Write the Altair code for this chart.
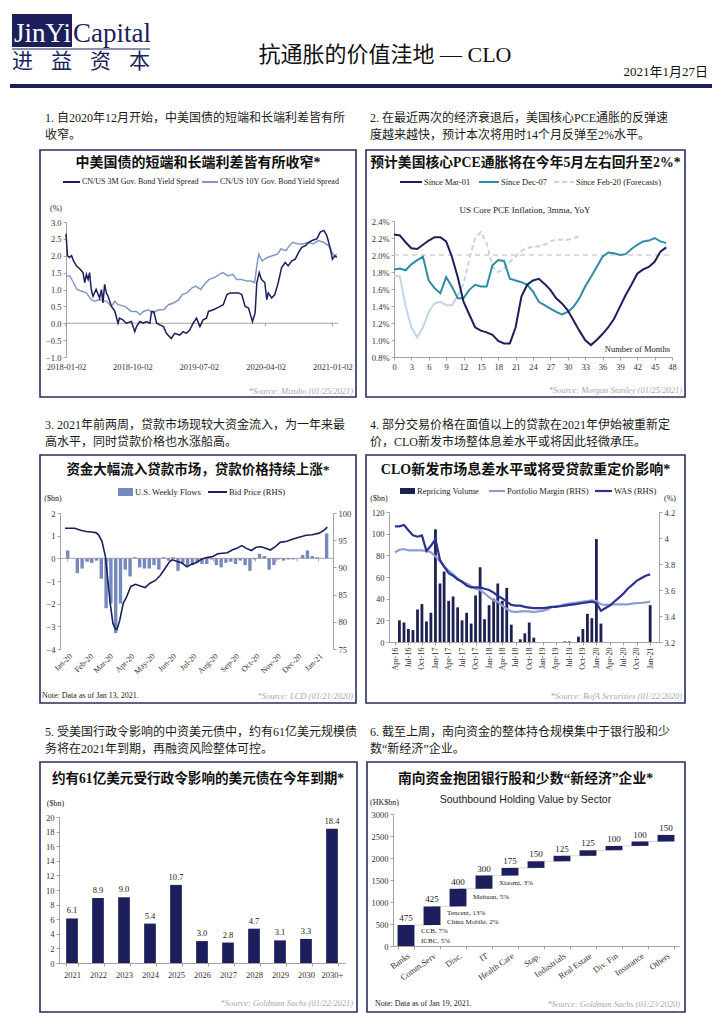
import altair as alt
import pandas as pd

# ------------------------------------------------------------------ style
NAVY = "#1c1f5c"
BOX = "#2a2d5c"
GREY = "#8c8c8c"
SRC = "#a8a8a8"
INK = "#1a1a1a"
SERIF = "Liberation Serif, Noto Sans CJK SC"
SANS = "Liberation Sans, Noto Sans CJK SC"

# ------------------------------------------------------------------ header text
BRAND_EN = ["JinYi", "Capital"]
BRAND_CN = ["进", "益", "资", "本"]
PAGE_TITLE = "抗通胀的价值洼地 — CLO"
PAGE_DATE = "2021年1月27日"

# ------------------------------------------------------------------ panel 1
P1_CAPTION = ["1. 自2020年12月开始，中美国债的短端和长端利差皆有所", "收窄。"]
P1_TITLE = "中美国债的短端和长端利差皆有所收窄*"
P1_SERIES = ["CN/US 3M Gov. Bond Yield Spread", "CN/US 10Y Gov. Bond Yield Spread"]
P1_SOURCE = "*Source: Mizuho (01/25/2021)"
P1_XTICKS = ["2018-01-02", "2018-10-02", "2019-07-02", "2020-04-02", "2021-01-02"]
P1_YTICKS = [-1.0, -0.5, 0.0, 0.5, 1.0, 1.5, 2.0, 2.5, 3.0]
P1_3M = [
    ("2018-01-02", 2.65), ("2018-01-08", 2.0), ("2018-01-16", 1.95), ("2018-01-25", 2.0),
    ("2018-02-02", 1.85), ("2018-02-14", 1.7), ("2018-03-01", 1.6), ("2018-03-13", 1.5),
    ("2018-03-20", 1.2), ("2018-03-27", 1.45), ("2018-04-03", 1.3), ("2018-04-09", 1.5),
    ("2018-04-16", 1.0), ("2018-04-23", 0.8), ("2018-05-06", 1.0), ("2018-05-20", 0.75),
    ("2018-05-28", 1.0), ("2018-06-03", 0.6), ("2018-06-10", 1.15), ("2018-06-17", 0.9),
    ("2018-06-24", 0.8), ("2018-07-01", 0.65), ("2018-07-08", 0.5), ("2018-07-22", 0.35),
    ("2018-08-04", 0.0), ("2018-08-10", 0.15), ("2018-08-24", 0.1), ("2018-09-07", 0.0),
    ("2018-09-28", 0.05), ("2018-10-12", -0.25), ("2018-10-19", -0.1), ("2018-11-02", 0.05),
    ("2018-11-16", 0.0), ("2018-11-28", 0.05), ("2018-12-13", 0.0), ("2018-12-20", 0.35),
    ("2018-12-29", 0.35), ("2019-01-10", 0.0), ("2019-01-23", -0.05), ("2019-02-07", -0.1),
    ("2019-02-19", -0.3), ("2019-03-11", -0.45), ("2019-03-25", -0.3), ("2019-04-15", -0.35),
    ("2019-04-29", -0.25), ("2019-05-12", -0.3), ("2019-05-26", -0.2), ("2019-06-09", 0.0),
    ("2019-06-23", 0.15), ("2019-07-07", -0.1), ("2019-07-20", 0.1), ("2019-08-03", 0.15),
    ("2019-08-11", 0.35), ("2019-08-31", 0.4), ("2019-09-14", 0.45), ("2019-09-28", 0.5),
    ("2019-10-11", 0.55), ("2019-10-26", 0.85), ("2019-11-08", 0.9), ("2019-11-23", 0.9),
    ("2019-12-13", 0.9), ("2019-12-26", 0.85), ("2020-01-09", 0.5), ("2020-01-23", 0.45),
    ("2020-01-29", 0.3), ("2020-02-08", 0.05), ("2020-02-19", 0.3), ("2020-02-26", 1.2),
    ("2020-03-07", 1.5), ("2020-03-16", 1.3), ("2020-03-30", 1.2), ("2020-04-07", 0.7),
    ("2020-04-13", 0.9), ("2020-04-27", 0.75), ("2020-05-10", 0.85), ("2020-05-24", 1.2),
    ("2020-06-07", 1.65), ("2020-06-22", 1.8), ("2020-07-04", 1.7), ("2020-07-19", 1.85),
    ("2020-08-02", 1.9), ("2020-08-16", 2.1), ("2020-08-29", 2.25), ("2020-09-13", 2.3),
    ("2020-09-27", 2.4), ("2020-10-10", 2.45), ("2020-10-30", 2.5), ("2020-11-13", 2.7),
    ("2020-11-28", 2.75), ("2020-12-10", 2.6), ("2020-12-25", 2.2), ("2021-01-02", 1.9),
    ("2021-01-12", 2.0), ("2021-01-20", 1.95),
]
P1_10Y = [
    ("2018-01-02", 1.4), ("2018-01-18", 1.4), ("2018-02-02", 1.2), ("2018-02-16", 1.0),
    ("2018-03-08", 0.95), ("2018-03-27", 0.9), ("2018-04-16", 0.7), ("2018-04-30", 0.65),
    ("2018-05-20", 0.7), ("2018-06-17", 0.65), ("2018-07-08", 0.5), ("2018-07-22", 0.65),
    ("2018-08-04", 0.55), ("2018-09-01", 0.5), ("2018-09-28", 0.35), ("2018-10-19", 0.35),
    ("2018-11-02", 0.25), ("2018-11-16", 0.35), ("2018-12-06", 0.4), ("2018-12-26", 0.3),
    ("2019-01-17", 0.4), ("2019-02-07", 0.4), ("2019-02-28", 0.55), ("2019-03-21", 0.6),
    ("2019-04-11", 0.7), ("2019-04-25", 0.85), ("2019-05-15", 0.9), ("2019-06-05", 1.05),
    ("2019-06-19", 1.1), ("2019-07-10", 1.0), ("2019-07-31", 1.2), ("2019-08-14", 1.3),
    ("2019-09-04", 1.35), ("2019-09-25", 1.45), ("2019-10-09", 1.5), ("2019-10-30", 1.4),
    ("2019-11-20", 1.45), ("2019-12-04", 1.3), ("2019-12-24", 1.3), ("2020-01-14", 1.25),
    ("2020-02-03", 1.25), ("2020-02-17", 1.2), ("2020-02-28", 1.8), ("2020-03-05", 2.05),
    ("2020-03-19", 1.85), ("2020-04-09", 1.95), ("2020-04-30", 2.0), ("2020-05-21", 2.05),
    ("2020-06-04", 2.2), ("2020-06-25", 2.15), ("2020-07-09", 2.3), ("2020-07-23", 2.4),
    ("2020-08-13", 2.35), ("2020-09-03", 2.35), ("2020-09-24", 2.4), ("2020-10-15", 2.35),
    ("2020-11-05", 2.45), ("2020-11-26", 2.4), ("2020-12-17", 2.3), ("2020-12-31", 2.1),
    ("2021-01-12", 2.0), ("2021-01-20", 2.05),
]

# ------------------------------------------------------------------ panel 2
P2_CAPTION = ["2. 在最近两次的经济衰退后，美国核心PCE通胀的反弹速",
              "度越来越快，预计本次将用时14个月反弹至2%水平。"]
P2_TITLE = "预计美国核心PCE通胀将在今年5月左右回升至2%*"
P2_SERIES = ["Since Mar-01", "Since Dec-07", "Since Feb-20 (Forecasts)"]
P2_SUBTITLE = "US Core PCE Inflation, 3mma, YoY"
P2_XLABEL = "Number of Months"
P2_SOURCE = "*Source: Morgan Stanley (01/25/2021)"
P2_XTICKS = [0, 3, 6, 9, 12, 15, 18, 21, 24, 27, 30, 33, 36, 39, 42, 45, 48]
P2_YTICKS = [0.8, 1.0, 1.2, 1.4, 1.6, 1.8, 2.0, 2.2, 2.4]
P2_TARGET = 2.0
P2_MAR01 = [2.24, 2.23, 2.15, 2.08, 2.07, 2.12, 2.17, 2.21, 2.21, 2.16, 1.98, 1.74,
            1.45, 1.30, 1.15, 1.11, 1.09, 1.06, 0.99, 0.96, 0.96, 1.15, 1.51, 1.65,
            1.70, 1.72, 1.66, 1.59, 1.49, 1.43, 1.35, 1.23, 1.11, 1.00, 0.94, 1.00,
            1.07, 1.15, 1.25, 1.39, 1.53, 1.65, 1.78, 1.83, 1.86, 1.92, 2.04, 2.09]
P2_DEC07 = [1.83, 1.84, 1.82, 1.89, 1.94, 1.98, 1.70, 1.61, 1.55, 1.74, 1.63, 1.49,
            1.49, 1.59, 1.65, 1.63, 1.63, 1.88, 1.94, 1.93, 1.72, 1.70, 1.68, 1.65,
            1.57, 1.45, 1.41, 1.37, 1.33, 1.30, 1.33, 1.39, 1.49, 1.63, 1.74, 1.86,
            1.98, 2.03, 2.02, 2.00, 2.01, 2.07, 2.12, 2.16, 2.17, 2.20, 2.16, 2.14]
P2_FEB20 = [1.75, 1.75, 1.40, 1.15, 1.03, 1.15, 1.33, 1.43, 1.45, 1.41, 1.41, 1.52,
            1.66, 1.95, 2.20, 2.27, 2.14, 1.86, 1.80, 1.84, 1.92, 1.98, 2.05, 2.08,
            2.10, 2.10, 2.12, 2.16, 2.18, 2.18, 2.18, 2.20, 2.22]
P2_FEB20_ACTUAL = 12  # months of realised data before the forecast part

# ------------------------------------------------------------------ panel 3
P3_CAPTION = ["3. 2021年前两周，贷款市场现较大资金流入，为一年来最",
              "高水平，同时贷款价格也水涨船高。"]
P3_TITLE = "资金大幅流入贷款市场，贷款价格持续上涨*"
P3_SERIES = ["U.S. Weekly Flows", "Bid Price (RHS)"]
P3_NOTE = "Note: Data as of Jan 13, 2021."
P3_SOURCE = "*Source: LCD (01/21/2020)"
P3_FLOWS = [0.35, 0.0, -0.65, -0.45, -0.15, -0.2, -0.1, -0.9, -2.2, -2.0, -3.3,
            -2.0, -0.5, -0.8, 0.05, -0.4, -0.45, -0.45, -0.3, -0.5, 0.05, -0.1,
            0.05, -0.55, -0.2, -0.35, -0.3, -0.2, -0.25, -0.25, -0.05, -0.3, -0.4,
            -0.2, -0.15, -0.25, -0.1, -0.3, -0.55, -0.05, 0.2, 0.1, -0.5, -0.3,
            -0.05, -0.1, -0.05, -0.05, 0.0, 0.15, 0.35, 0.1, 0.05, 0.0, 1.1]
P3_PRICE = [
    ("2019-12-28", 97.2), ("2020-01-11", 97.2), ("2020-01-21", 96.8), ("2020-01-28", 96.6),
    ("2020-02-04", 96.5), ("2020-02-11", 96.4), ("2020-02-15", 96.0), ("2020-02-20", 94.8),
    ("2020-02-25", 92.0), ("2020-02-28", 88.3), ("2020-03-03", 83.4), ("2020-03-07", 79.7),
    ("2020-03-10", 78.8), ("2020-03-13", 78.6), ("2020-03-17", 80.3), ("2020-03-22", 83.4),
    ("2020-03-27", 84.6), ("2020-04-02", 86.5), ("2020-04-09", 86.9), ("2020-04-16", 86.6),
    ("2020-04-23", 86.3), ("2020-04-30", 87.1), ("2020-05-08", 87.6), ("2020-05-15", 88.5),
    ("2020-05-22", 89.8), ("2020-05-29", 91.1), ("2020-06-02", 91.4), ("2020-06-09", 91.1),
    ("2020-06-16", 90.8), ("2020-06-23", 90.1), ("2020-06-30", 90.6), ("2020-07-07", 90.9),
    ("2020-07-14", 91.5), ("2020-07-22", 91.8), ("2020-07-31", 92.0), ("2020-08-07", 92.5),
    ("2020-08-14", 92.6), ("2020-08-21", 92.7), ("2020-08-28", 93.2), ("2020-09-04", 93.5),
    ("2020-09-11", 94.0), ("2020-09-18", 93.5), ("2020-09-25", 93.1), ("2020-10-02", 93.7),
    ("2020-10-09", 93.8), ("2020-10-16", 93.5), ("2020-10-23", 93.2), ("2020-10-30", 93.8),
    ("2020-11-06", 94.6), ("2020-11-16", 94.8), ("2020-11-25", 95.2), ("2020-12-05", 95.6),
    ("2020-12-14", 95.9), ("2020-12-23", 96.0), ("2021-01-02", 96.3), ("2021-01-09", 96.8),
    ("2021-01-14", 97.4),
]
P3_XTICKS = ["2020-01-01", "2020-02-01", "2020-03-01", "2020-04-01", "2020-05-01",
             "2020-06-01", "2020-07-01", "2020-08-01", "2020-09-01", "2020-10-01",
             "2020-11-01", "2020-12-01", "2021-01-01"]

# ------------------------------------------------------------------ panel 4
P4_CAPTION = ["4. 部分交易价格在面值以上的贷款在2021年伊始被重新定",
              "价，CLO新发市场整体息差水平或将因此轻微承压。"]
P4_TITLE = "CLO新发市场息差水平或将受贷款重定价影响*"
P4_SERIES = ["Repricing Volume", "Portfolio Margin (RHS)", "WAS (RHS)"]
P4_SOURCE = "*Source: BofA Securities (01/22/2020)"
P4_REPRICING = [0, 20, 18, 12, 11, 30, 35, 19, 27, 104, 54, 65, 38, 42, 32, 20, 27, 17,
                43, 69, 21, 34, 40, 54, 38, 50, 16, 0, 2.5, 8, 18, 4, 0, 0, 0, 0, 0, 0,
                0.5, 0.5, 0, 5, 12, 26, 22, 95, 17, 0, 0, 0, 0, 0, 0, 0, 0, 0, 0, 34]
P4_WAS = [4.09, 4.09, 4.10, 4.06, 4.02, 4.01, 4.02, 3.90, 3.94, 3.99, 3.83, 3.78,
          3.73, 3.71, 3.68, 3.665, 3.635, 3.62, 3.62, 3.62, 3.61, 3.60, 3.58, 3.555,
          3.535, 3.51, 3.485, 3.48, 3.48, 3.47, 3.465, 3.46, 3.46, 3.46, 3.465, 3.47,
          3.47, 3.475, 3.48, 3.485, 3.49, 3.495, 3.50, 3.505, 3.51, 3.50, 3.44, 3.46,
          3.48, 3.51, 3.54, 3.57, 3.61, 3.64, 3.67, 3.69, 3.71, 3.72]
P4_MARGIN = [3.89, 3.91, 3.915, 3.905, 3.905, 3.905, 3.905, 3.90, 3.89, 3.86, 3.82, 3.78,
             3.75, 3.72, 3.69, 3.66, 3.65, 3.63, 3.61, 3.60, 3.575, 3.545, 3.52, 3.51,
             3.48, 3.455, 3.435, 3.43, 3.435, 3.435, 3.435, 3.43, 3.435, 3.44, 3.45, 3.465,
             3.475, 3.48, 3.49, 3.495, 3.50, 3.505, 3.51, 3.515, 3.52, 3.515, 3.49, 3.485,
             3.485, 3.49, 3.49, 3.49, 3.49, 3.495, 3.50, 3.50, 3.505, 3.51]
P4_XTICKS = ["2016-04-01", "2016-07-01", "2016-10-01", "2017-01-01", "2017-04-01",
             "2017-07-01", "2017-10-01", "2018-01-01", "2018-04-01", "2018-07-01",
             "2018-10-01", "2019-01-01", "2019-04-01", "2019-07-01", "2019-10-01",
             "2020-01-01", "2020-04-01", "2020-07-01", "2020-10-01", "2021-01-01"]

# ------------------------------------------------------------------ panel 5
P5_CAPTION = ["5. 受美国行政令影响的中资美元债中，约有61亿美元规模债",
              "务将在2021年到期，再融资风险整体可控。"]
P5_TITLE = "约有61亿美元受行政令影响的美元债在今年到期*"
P5_SOURCE = "*Source: Goldman Sachs (01/22/2021)"
P5_YEARS = ["2021", "2022", "2023", "2024", "2025", "2026", "2027", "2028", "2029", "2030", "2030+"]
P5_VALUES = [6.1, 8.9, 9.0, 5.4, 10.7, 3.0, 2.8, 4.7, 3.1, 3.3, 18.4]

# ------------------------------------------------------------------ panel 6
P6_CAPTION = ["6. 截至上周，南向资金的整体持仓规模集中于银行股和少", "数“新经济”企业。"]
P6_TITLE = "南向资金抱团银行股和少数“新经济”企业*"
P6_SUBTITLE = "Southbound Holding Value by Sector"
P6_NOTE = "Note: Data as of Jan 19, 2021."
P6_SOURCE = "*Source: Goldman Sachs (01/23/2020)"
P6_SECTORS = ["Banks", "Comm.Serv", "Disc.", "IT", "Health Care", "Stap.", "Industrials",
              "Real Estate", "Div. Fin", "Insurance", "Others"]
P6_VALUES = [475, 425, 400, 300, 175, 150, 125, 125, 100, 100, 150]
P6_NOTES = [("Comm.Serv", 340, "CCB, 7%"), ("Comm.Serv", 115, "ICBC, 5%"),
            ("Disc.", 760, "Tencent, 13%"), ("Disc.", 545, "China Mobile, 2%"),
            ("IT", 1110, "Meituan, 5%"), ("Health Care", 1430, "Xiaomi, 3%")]

# ------------------------------------------------------------------ helpers
one = pd.DataFrame({"k": [0]})


def D(s):
    y, m, d = (int(p) for p in s.split("-"))
    return alt.DateTime(year=y, month=m, date=d)


class Cell:
    """decorations placed in page pixels, converted to the cell's own frame"""

    def __init__(self, ox, oy):
        self.ox, self.oy = ox, oy

    def X(self, v):
        return v - self.ox

    def Y(self, v):
        return v - self.oy

    def txt(self, s, x, y, size=9.0, color=INK, align="left", font=SERIF, bold=False,
            italic=False, baseline="middle"):
        mk = dict(text=s, align=align, baseline=baseline, fontSize=size, font=font, color=color)
        if bold:
            mk["fontWeight"] = "bold"
        if italic:
            mk["fontStyle"] = "italic"
        return alt.Chart(one).mark_text(**mk).encode(
            x=alt.value(self.X(x)), y=alt.value(self.Y(y)))

    def rect(self, x, x2, y, y2, fill=None, stroke=None, sw=1.0):
        mk = {}
        if fill is not None:
            mk["fill"] = fill
        else:
            mk["fillOpacity"] = 0
        if stroke is not None:
            mk["stroke"] = stroke
            mk["strokeWidth"] = sw
        return alt.Chart(one).mark_rect(**mk).encode(
            x=alt.value(self.X(x)), x2=alt.value(self.X(x2)),
            y=alt.value(self.Y(y)), y2=alt.value(self.Y(y2)))

    def hline(self, x, x2, y, color, w=2.0, dash=None):
        mk = dict(color=color, strokeWidth=w)
        if dash:
            mk["strokeDash"] = dash
        return alt.Chart(one).mark_rule(**mk).encode(
            x=alt.value(self.X(x)), x2=alt.value(self.X(x2)), y=alt.value(self.Y(y)))

    def frame(self, box, title, tsize, tx, ty, caption, capx, capy):
        return [
            self.rect(*box, stroke=BOX, sw=1.6),
            self.txt(title, tx, ty, size=tsize, bold=True, align="center", color="#111111"),
            self.txt(caption[0], capx, capy, size=12),
            self.txt(caption[1], capx, capy + 16.5, size=12),
        ]


CW = 354  # cell width

# ------------------------------------------------------------------ header  (page 8..716 x 8..100)
c0 = Cell(8, 8)
header = alt.layer(
    c0.rect(12, 72, 14, 47, fill=NAVY),
    c0.txt(BRAND_EN[0], 14, 42, size=27, color="white", baseline="alphabetic", font="Liberation Serif"),
    c0.txt(BRAND_EN[1], 73, 42, size=27, color=NAVY, baseline="alphabetic", font="Liberation Serif"),
    c0.hline(12, 150, 49, NAVY, 1),
    c0.txt(BRAND_CN[0], 12, 62, size=21, color=NAVY),
    c0.txt(BRAND_CN[1], 51, 62, size=21, color=NAVY),
    c0.txt(BRAND_CN[2], 90, 62, size=21, color=NAVY),
    c0.txt(BRAND_CN[3], 129, 62, size=21, color=NAVY),
    c0.txt(PAGE_TITLE, 385, 55, size=22, align="center", color="#111111"),
    c0.txt(PAGE_DATE, 708, 72, size=13, align="right", color="#111111"),
    c0.rect(10, 712, 84, 88, fill=NAVY),
).properties(width=708, height=92)

# ------------------------------------------------------------------ panel 1  (page 8..362 x 100..408)
c1 = Cell(8, 100)
P1_LIGHT = "#8496c9"
d1a = pd.DataFrame(P1_3M, columns=["date", "v"])
d1b = pd.DataFrame(P1_10Y, columns=["date", "v"])
d1z = pd.DataFrame({"v": [0.0]})
d1t = pd.DataFrame({"date": P1_XTICKS, "v": [0.0] * len(P1_XTICKS)})
x1 = alt.X("date:T", title=None,
           scale=alt.Scale(domain=[D("2018-01-02"), D("2021-01-25")], range=[c1.X(66), c1.X(338)]),
           axis=alt.Axis(values=[D(s) for s in P1_XTICKS], format="%Y-%m-%d", domain=False,
                         ticks=False, labelPadding=5, offset=-(408 - 357)))
y1 = alt.Y("v:Q", title=None,
           scale=alt.Scale(domain=[-1, 3], range=[c1.Y(357), c1.Y(222)], nice=False, zero=False),
           axis=alt.Axis(values=P1_YTICKS, format=".1f", offset=-(66 - 8)))
p1 = alt.layer(
    *c1.frame((40, 356, 150, 397), P1_TITLE, 14, 198, 163, P1_CAPTION, 45, 118),
    alt.Chart(d1z).mark_rule(color=GREY, strokeWidth=0.8).encode(
        x=alt.value(c1.X(66)), x2=alt.value(c1.X(338)), y=y1),
    alt.Chart(d1t).mark_rule(color=GREY, strokeWidth=0.8).encode(
        x=x1, y=y1, y2=alt.value(c1.Y(326.5))),
    alt.Chart(d1b).mark_line(color=P1_LIGHT, strokeWidth=1.5).encode(x=x1, y=y1),
    alt.Chart(d1a).mark_line(color=NAVY, strokeWidth=1.5).encode(x=x1, y=y1),
    c1.hline(63, 80, 182, NAVY, 2),
    c1.txt(P1_SERIES[0], 82, 182, size=8),
    c1.hline(202, 218, 182, P1_LIGHT, 2),
    c1.txt(P1_SERIES[1], 220, 182, size=8),
    c1.txt("(%)", 56, 209, size=8, align="center"),
    c1.txt(P1_SOURCE, 353, 391, size=8.5, color=SRC, italic=True, align="right"),
).properties(width=CW, height=308)

# ------------------------------------------------------------------ panel 2  (page 362..716 x 100..408)
c2 = Cell(362, 100)
TEAL = "#2f8ca3"
PALE = "#c3d5ea"
d2a = pd.DataFrame({"m": list(range(len(P2_MAR01))), "v": P2_MAR01})
d2b = pd.DataFrame({"m": list(range(len(P2_DEC07))), "v": P2_DEC07})
d2c = pd.DataFrame({"m": list(range(len(P2_FEB20))), "v": P2_FEB20})
d2c_act = d2c.iloc[:P2_FEB20_ACTUAL]
d2c_fc = d2c.iloc[P2_FEB20_ACTUAL - 1:]
d2t = pd.DataFrame({"v": [P2_TARGET]})
x2 = alt.X("m:Q", title=None,
           scale=alt.Scale(domain=[0, 48], range=[c2.X(394), c2.X(672)], nice=False, zero=False),
           axis=alt.Axis(values=P2_XTICKS, format="d", offset=-(408 - 357)))
y2 = alt.Y("v:Q", title=None,
           scale=alt.Scale(domain=[0.8, 2.4], range=[c2.Y(357), c2.Y(221)], nice=False, zero=False),
           axis=alt.Axis(values=P2_YTICKS, labelExpr="format(datum.value, '.1f') + '%'",
                         offset=-(394 - 362)))
p2 = alt.layer(
    *c2.frame((366, 685, 150, 397), P2_TITLE, 13.8, 525.5, 163, P2_CAPTION, 370, 118),
    alt.Chart(d2t).mark_rule(color="#d0d0d0", strokeWidth=1.5, strokeDash=[5, 4]).encode(
        x=alt.value(c2.X(394)), x2=alt.value(c2.X(672)), y=y2),
    alt.Chart(d2c_act).mark_line(color=PALE, strokeWidth=2).encode(x=x2, y=y2),
    alt.Chart(d2c_fc).mark_line(color=PALE, strokeWidth=2, strokeDash=[5, 3]).encode(x=x2, y=y2),
    alt.Chart(d2b).mark_line(color=TEAL, strokeWidth=2).encode(x=x2, y=y2),
    alt.Chart(d2a).mark_line(color=NAVY, strokeWidth=2).encode(x=x2, y=y2),
    c2.hline(400, 422, 182, NAVY, 2),
    c2.txt(P2_SERIES[0], 424, 182, size=8.5),
    c2.hline(479, 499, 182, TEAL, 2),
    c2.txt(P2_SERIES[1], 501, 182, size=8.5),
    c2.hline(554, 574, 182, PALE, 2, dash=[5, 3]),
    c2.txt(P2_SERIES[2], 576, 182, size=8.5),
    c2.txt(P2_SUBTITLE, 525, 210, size=9, align="center"),
    c2.txt(P2_XLABEL, 670, 349, size=8.5, align="right"),
    c2.txt(P2_SOURCE, 682, 390, size=8.5, color=SRC, italic=True, align="right"),
).properties(width=CW, height=308)

# ------------------------------------------------------------------ panel 3  (page 8..362 x 408..714)
c3 = Cell(8, 408)
FLOW = "#7589bf"
d3f = pd.DataFrame({"date": pd.date_range("2020-01-01", periods=len(P3_FLOWS), freq="7D"),
                    "v": P3_FLOWS})
d3p = pd.DataFrame(P3_PRICE, columns=["date", "p"])
d3z = pd.DataFrame({"v": [0.0]})
d3t = pd.DataFrame({"date": P3_XTICKS, "v": [0.0] * len(P3_XTICKS)})
x3 = alt.X("date:T", title=None,
           scale=alt.Scale(domain=[D("2019-12-28"), D("2021-01-15")], range=[c3.X(60), c3.X(333)]),
           axis=alt.Axis(values=[D(s) for s in P3_XTICKS], format="%b-%y", labelAngle=-45,
                         domain=False, ticks=False, labelPadding=3, labelFontSize=8,
                         offset=-(714 - 649)))
ysc3 = dict(domain=[-4, 2], range=[c3.Y(649), c3.Y(513)], nice=False, zero=False)
yl3 = alt.Y("v:Q", title=None, scale=alt.Scale(**ysc3),
            axis=alt.Axis(orient="left", values=[-4, -3, -2, -1, 0, 1, 2], format="d",
                          offset=-(60 - 8)))
yz3 = alt.Y("v:Q", title=None, scale=alt.Scale(**ysc3), axis=None)
yr3 = alt.Y("p:Q", title=None,
            scale=alt.Scale(domain=[75, 100], range=[c3.Y(649), c3.Y(513)], nice=False, zero=False),
            axis=alt.Axis(orient="right", values=[75, 80, 85, 90, 95, 100], format="d",
                          offset=-(362 - 333)))
p3 = alt.layer(
    *c3.frame((40, 356, 455, 703), P3_TITLE, 13.5, 198, 470, P3_CAPTION, 45, 425),
    alt.Chart(d3f).mark_bar(color=FLOW, size=3.4).encode(x=x3, y=yl3),
    alt.Chart(d3z).mark_rule(color=GREY, strokeWidth=0.8).encode(
        x=alt.value(c3.X(60)), x2=alt.value(c3.X(333)), y=yz3),
    alt.Chart(d3t).mark_rule(color=GREY, strokeWidth=0.8).encode(
        x=x3, y=yz3, y2=alt.value(c3.Y(561.5))),
    alt.Chart(d3p).mark_line(color=NAVY, strokeWidth=1.6).encode(x=x3, y=yr3),
    c3.rect(118, 133, 488, 496, fill=FLOW),
    c3.txt(P3_SERIES[0], 135, 492, size=8.5),
    c3.hline(208, 227, 492, NAVY, 2),
    c3.txt(P3_SERIES[1], 229, 492, size=8.5),
    c3.txt("($bn)", 53, 499, size=8, align="center"),
    c3.txt(P3_NOTE, 42, 696, size=8),
    c3.txt(P3_SOURCE, 353, 696, size=8.5, color=SRC, italic=True, align="right"),
).resolve_scale(y="independent").properties(width=CW, height=306)

# ------------------------------------------------------------------ panel 4  (page 362..716 x 408..714)
c4 = Cell(362, 408)
REP = "#1d2152"
PM = "#8c9dd1"
WAS = "#2b3290"
d4 = pd.DataFrame({"date": pd.date_range("2016-04-01", periods=len(P4_REPRICING), freq="MS"),
                   "vol": P4_REPRICING, "pm": P4_MARGIN, "was": P4_WAS})
x4 = alt.X("date:T", title=None,
           scale=alt.Scale(domain=[D("2016-03-25"), D("2021-01-27")], range=[c4.X(389), c4.X(659)]),
           axis=alt.Axis(values=[D(s) for s in P4_XTICKS], format="%b-%y", labelAngle=-90,
                         labelFontSize=8, labelPadding=2, offset=-(714 - 642)))
yl4 = alt.Y("vol:Q", title=None,
            scale=alt.Scale(domain=[0, 120], range=[c4.Y(642), c4.Y(512)], nice=False),
            axis=alt.Axis(orient="left", values=[0, 20, 40, 60, 80, 100, 120], format="d",
                          offset=-(389 - 362)))
yr4 = alt.Y("pm:Q", title=None,
            scale=alt.Scale(domain=[3.2, 4.2], range=[c4.Y(642), c4.Y(512)], nice=False, zero=False),
            axis=alt.Axis(orient="right", values=[3.2, 3.4, 3.6, 3.8, 4.0, 4.2], format="~g",
                          offset=-(716 - 659)))
yw4 = alt.Y("was:Q", title=None,
            scale=alt.Scale(domain=[3.2, 4.2], range=[c4.Y(642), c4.Y(512)], nice=False, zero=False),
            axis=None)
p4 = alt.layer(
    *c4.frame((366, 685, 455, 703), P4_TITLE, 14, 525.5, 470, P4_CAPTION, 370, 425),
    alt.Chart(d4).mark_bar(color=REP, size=2.8).encode(x=x4, y=yl4),
    alt.Chart(d4).mark_line(color=PM, strokeWidth=2.2).encode(x=x4, y=yr4),
    alt.Chart(d4).mark_line(color=WAS, strokeWidth=2.2).encode(x=x4, y=yw4),
    c4.rect(400, 415, 488, 494, fill=REP),
    c4.txt(P4_SERIES[0], 417, 491, size=8.5),
    c4.hline(489, 505, 491, PM, 2.2),
    c4.txt(P4_SERIES[1], 507, 491, size=8.5),
    c4.hline(595, 612, 491, WAS, 2.2),
    c4.txt(P4_SERIES[2], 614, 491, size=8.5),
    c4.txt("($bn)", 379, 499, size=8, align="center"),
    c4.txt("(%)", 670, 499, size=8, align="center"),
    c4.txt(P4_SOURCE, 682, 696, size=8.5, color=SRC, italic=True, align="right"),
).resolve_scale(y="independent").properties(width=CW, height=306)

# ------------------------------------------------------------------ panel 5  (page 8..362 x 714..1020)
c5 = Cell(8, 714)
d5 = pd.DataFrame({"year": P5_YEARS, "v": P5_VALUES})
x5 = alt.X("year:N", title=None, sort=P5_YEARS,
           scale=alt.Scale(domain=P5_YEARS, range=[c5.X(59), c5.X(345)],
                           paddingInner=0.55, paddingOuter=0.275),
           axis=alt.Axis(labelAngle=0, tickBand="extent", labelPadding=4, offset=-(1020 - 963)))
y5 = alt.Y("v:Q", title=None,
           scale=alt.Scale(domain=[0, 20], range=[c5.Y(963), c5.Y(817)], nice=False),
           axis=alt.Axis(values=[0, 2, 4, 6, 8, 10, 12, 14, 16, 18, 20], format="d",
                         offset=-(59 - 8)))
p5 = alt.layer(
    *c5.frame((40, 357, 762, 1012), P5_TITLE, 13.6, 198, 779, P5_CAPTION, 45, 732),
    alt.Chart(d5).mark_bar(color=NAVY).encode(x=x5, y=y5),
    alt.Chart(d5).mark_text(font=SERIF, fontSize=8.5, dy=-8, color="#222222").encode(
        x=x5, y=y5, text=alt.Text("v:Q", format=".1f")),
    c5.txt("($bn)", 55.5, 804, size=8, align="center"),
    c5.txt(P5_SOURCE, 353, 1003, size=8.5, color=SRC, italic=True, align="right"),
).properties(width=CW, height=306)

# ------------------------------------------------------------------ panel 6  (page 362..716 x 714..1020)
c6 = Cell(362, 714)
ends = pd.Series(P6_VALUES).cumsum()
d6 = pd.DataFrame({"cat": P6_SECTORS, "v": P6_VALUES,
                   "start": (ends - pd.Series(P6_VALUES)).tolist(), "end": ends.tolist()})
d6c = pd.DataFrame({"c1": P6_SECTORS[:-1], "c2": P6_SECTORS[1:], "lvl": ends.tolist()[:-1]})
d6n = pd.DataFrame(P6_NOTES, columns=["cat", "y", "t"])
sc6 = alt.Scale(domain=P6_SECTORS, range=[c6.X(393), c6.X(679)], paddingInner=0.35,
                paddingOuter=0.175)
ax6 = alt.Axis(labelAngle=-35, tickBand="extent", labelPadding=2, labelFontSize=8.5,
               offset=-(1020 - 946))
yax6 = alt.Axis(values=[0, 500, 1000, 1500, 2000, 2500, 3000], format="d", offset=-(393 - 362))
ys6 = alt.Scale(domain=[0, 3000], range=[c6.Y(946), c6.Y(814)], nice=False)
X6 = dict(title=None, sort=P6_SECTORS, scale=sc6, axis=ax6)
p6 = alt.layer(
    *c6.frame((367, 685, 762, 1012), P6_TITLE, 13.8, 525.5, 779, P6_CAPTION, 370, 732),
    alt.Chart(d6c).mark_rule(color="#d6d6d6", strokeWidth=1).encode(
        x=alt.X("c1:N", **X6), x2="c2:N",
        y=alt.Y("lvl:Q", title=None, scale=ys6, axis=yax6)),
    alt.Chart(d6).mark_bar(color=NAVY).encode(
        x=alt.X("cat:N", **X6),
        y=alt.Y("start:Q", title=None, scale=ys6, axis=yax6), y2="end:Q"),
    alt.Chart(d6).mark_text(font=SERIF, fontSize=9, dy=-7, color="#222222").encode(
        x=alt.X("cat:N", **X6),
        y=alt.Y("end:Q", title=None, scale=ys6, axis=yax6),
        text=alt.Text("v:Q", format="d")),
    alt.Chart(d6n).mark_text(font=SERIF, fontSize=7, dx=-11, align="left", color="#222222").encode(
        x=alt.X("cat:N", **X6),
        y=alt.Y("y:Q", title=None, scale=ys6, axis=yax6),
        text="t:N"),
    c6.txt(P6_SUBTITLE, 525.5, 800, size=10.5, font=SANS, align="center"),
    c6.txt("(HK$bn)", 384.5, 803, size=8, align="center"),
    c6.txt(P6_NOTE, 375, 1004, size=8),
    c6.txt(P6_SOURCE, 680, 1004, size=8.5, color=SRC, italic=True, align="right"),
).properties(width=CW, height=306)

# ------------------------------------------------------------------ page
row1 = alt.hconcat(p1, p2, spacing=0)
row2 = alt.hconcat(p3, p4, spacing=0)
row3 = alt.hconcat(p5, p6, spacing=0)
chart = alt.vconcat(header, row1, row2, row3, spacing=0).properties(
    padding=0, background="white"
).configure_view(strokeWidth=0).configure_axis(
    labelFont="Liberation Serif", labelFontSize=8.5, labelColor="#333333",
    domainColor=GREY, tickColor=GREY, tickSize=3, domainWidth=0.8, tickWidth=0.8,
    grid=False, labelOverlap=False, labelFlush=False,
)

chart.save("out.html", embed_options={"renderer": "svg", "actions": False})
